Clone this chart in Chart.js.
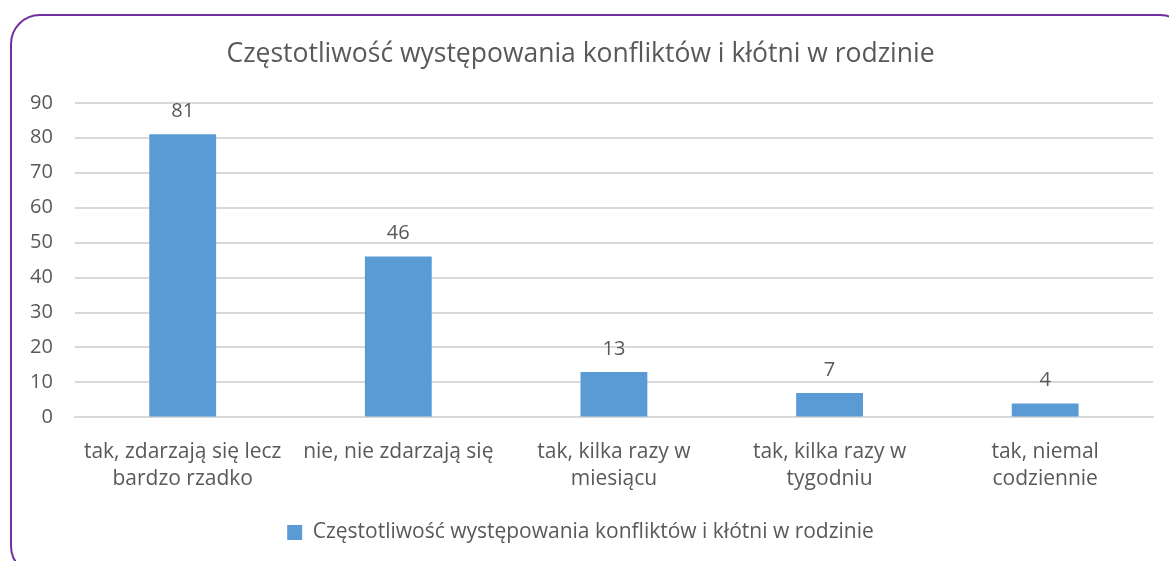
<!DOCTYPE html>
<html>
<head>
<meta charset="utf-8">
<script src="https://cdn.jsdelivr.net/npm/chart.js@4"></script>
<style>
  body { margin: 0; background: #fff; overflow: hidden; }
  #frame {
    position: absolute; left: 10px; top: 14px; width: 1180px; height: 562px;
    border: 2px solid #7030A0; border-radius: 30px; box-sizing: border-box;
  }
  #wrap { position: absolute; left: 0; top: 0; width: 1169px; height: 561px; }
</style>
</head>
<body>
<div id="frame"></div>
<div id="wrap"><canvas id="canvas"></canvas></div>
<script>
var categories = [
    ['tak, zdarzają się lecz', 'bardzo rzadko'],
    'nie, nie zdarzają się',
    ['tak, kilka razy w', 'miesiącu'],
    ['tak, kilka razy w', 'tygodniu'],
    ['tak, niemal', 'codziennie']
];
var values = [81, 46, 13, 7, 4];
var seriesName = 'Częstotliwość występowania konfliktów i kłótni w rodzinie';
var chartTitle = 'Częstotliwość występowania konfliktów i kłótni w rodzinie';

var fontName = "'Open Sans', sans-serif";
var textColor = '#595959';

// draws the numbers above the bars
const barLabels = {
    id: 'barLabels',
    afterDatasetsDraw(chart) {
        const ctx = chart.ctx;
        const meta = chart.getDatasetMeta(0);
        ctx.save();
        ctx.font = '20px ' + fontName;
        ctx.fillStyle = textColor;
        ctx.textAlign = 'center';
        ctx.textBaseline = 'middle';
        meta.data.forEach(function(bar, i) {
            ctx.fillText(values[i], bar.x, bar.y - 23);
        });
        ctx.restore();
    }
};

const ctx = document.getElementById('canvas');
const myChart = new Chart(ctx, {
    type: 'bar',
    data: {
        labels: categories,
        datasets: [{
            label: seriesName,
            data: values,
            backgroundColor: '#5B9BD5',
            borderWidth: 0,
            barPercentage: 0.31,
            categoryPercentage: 1
        }]
    },
    options: {
        responsive: true,
        maintainAspectRatio: false,
        animation: false,
        layout: {
            padding: { left: 8, right: 16, top: 20, bottom: 8 }
        },
        plugins: {
            title: {
                display: true,
                text: chartTitle,
                color: textColor,
                font: { family: fontName, size: 26.5, weight: 'normal' },
                padding: { top: 19, bottom: 32 }
            },
            legend: {
                position: 'bottom',
                labels: {
                    color: textColor,
                    font: { family: fontName, size: 21 },
                    boxWidth: 15,
                    boxHeight: 15,
                    padding: 16
                }
            },
            tooltip: { enabled: false }
        },
        scales: {
            y: {
                min: 0,
                max: 90,
                ticks: {
                    stepSize: 10,
                    color: textColor,
                    font: { family: fontName, size: 20 },
                    padding: 22
                },
                grid: { color: '#D9D9D9', lineWidth: 2, drawTicks: false },
                border: { display: false }
            },
            x: {
                ticks: {
                    color: textColor,
                    font: { family: fontName, size: 21, lineHeight: 1.3 },
                    padding: 13,
                    maxRotation: 0
                },
                grid: { display: false },
                border: { color: '#D9D9D9', width: 2 }
            }
        }
    },
    plugins: [barLabels]
});
</script>
</body>
</html>
